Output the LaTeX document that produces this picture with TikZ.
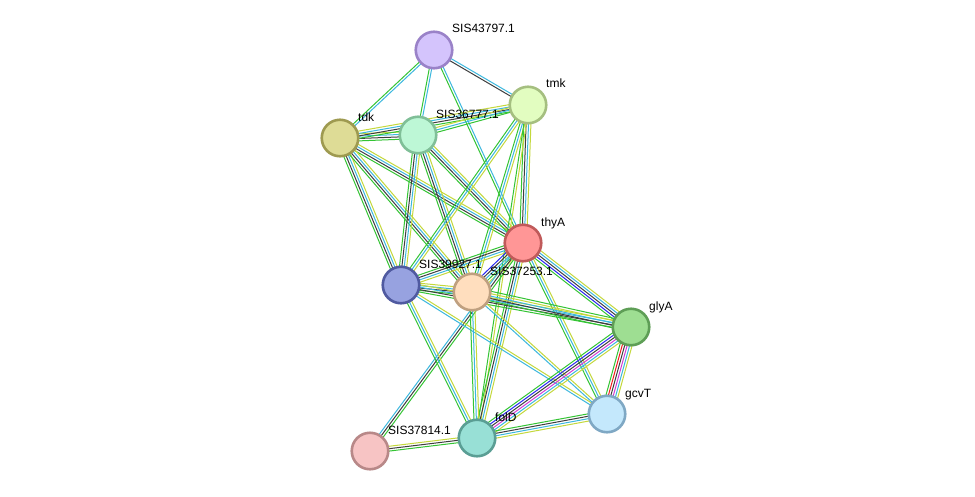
\documentclass[tikz,border=0pt]{standalone}
\usepackage{fontspec}
\setmainfont{Liberation Sans}
\usetikzlibrary{calc,backgrounds}
\definecolor{eG}{RGB}{52,196,52}
\definecolor{eC}{RGB}{60,184,222}
\definecolor{eK}{RGB}{62,62,62}
\definecolor{eY}{RGB}{196,216,60}
\definecolor{eB}{RGB}{40,40,240}
\definecolor{eR}{RGB}{240,30,30}
\definecolor{eM}{RGB}{210,60,210}
\tikzset{
  prot/.style={circle, minimum size=36.5pt, inner sep=0pt, line width=2.6pt},
  plabel/.style={anchor=base west, font=\fontsize{12}{14}\selectfont, inner sep=0pt},
  eline/.style={line width=1pt},
}
\newcommand{\bund}[3]{%
  \foreach [count=\i] \c in {#3} {\xdef\nn{\i}}%
  \foreach [count=\i] \c in {#3} {%
    \pgfmathsetmacro{\off}{(\i-(\nn+1)/2)*2.4}%
    \draw[eline, \c] ($(#1)!\off pt!90:(#2)$) -- ($(#2)!\off pt!-90:(#1)$);
  }%
}
\begin{document}
\begin{tikzpicture}[x=1pt,y=-1pt]
\useasboundingbox (0,0) rectangle (975,496);
% nodes
\node[prot, draw={rgb,255:red,154;green,130;blue,200}, fill={rgb,255:red,212;green,196;blue,252}] (n43797) at (434,50) {};
\node[prot, draw={rgb,255:red,165;green,191;blue,128}, fill={rgb,255:red,226;green,253;blue,192}] (tmk) at (528,105) {};
\node[prot, draw={rgb,255:red,158;green,154;blue,80}, fill={rgb,255:red,222;green,220;blue,150}] (tdk) at (340,138) {};
\node[prot, draw={rgb,255:red,128;green,191;blue,152}, fill={rgb,255:red,189;green,247;blue,214}] (n36777) at (418,135) {};
\node[prot, draw={rgb,255:red,192;green,90;blue,90}, fill={rgb,255:red,255;green,150;blue,150}] (thyA) at (523,243) {};
\node[prot, draw={rgb,255:red,80;green,90;blue,160}, fill={rgb,255:red,151;green,162;blue,224}] (n39927) at (401,285) {};
\node[prot, draw={rgb,255:red,191;green,160;blue,128}, fill={rgb,255:red,255;green,222;blue,190}] (n37253) at (472,292) {};
\node[prot, draw={rgb,255:red,94;green,158;blue,86}, fill={rgb,255:red,158;green,222;blue,146}] (glyA) at (631,327) {};
\node[prot, draw={rgb,255:red,127;green,168;blue,196}, fill={rgb,255:red,196;green,232;blue,252}] (gcvT) at (607,414) {};
\node[prot, draw={rgb,255:red,90;green,158;blue,148}, fill={rgb,255:red,152;green,224;blue,214}] (folD) at (477,438) {};
\node[prot, draw={rgb,255:red,184;green,136;blue,136}, fill={rgb,255:red,247;green,196;blue,196}] (n37814) at (370,451) {};
% labels
\node[plabel] (l43797) at (452,32) {SIS43797.1};
\node[plabel] (ltmk) at (546,87) {tmk};
\node[plabel] (ltdk) at (358,121) {tdk};
\node[plabel] (l36777) at (436,118) {SIS36777.1};
\node[plabel] (lthyA) at (541,226) {thyA};
\node[plabel] (l39927) at (419,268) {SIS39927.1};
\node[plabel] (l37253) at (490,275) {SIS37253.1};
\node[plabel] (lglyA) at (649,310) {glyA};
\node[plabel] (lgcvT) at (625,397) {gcvT};
\node[plabel] (lfolD) at (495,421) {folD};
\node[plabel] (l37814) at (388,434) {SIS37814.1};
% edges
\begin{pgfonlayer}{background}
\fill[white] (0,0) rectangle (975,496);
\bund{n43797}{tmk}{eK,eC}
\bund{n43797}{tdk}{eG,eC}
\bund{n43797}{n36777}{eG,eC}
\bund{n43797}{thyA}{eG,eC}
\bund{tdk}{n36777}{eG,eK,eC,eY}
\bund{tdk}{tmk}{eG,eK,eC,eY}
\bund{n36777}{tmk}{eG,eC,eY}
\bund{tdk}{thyA}{eG,eK,eC,eY}
\bund{tdk}{n39927}{eG,eK,eC,eY}
\bund{tdk}{n37253}{eG,eK,eC,eY}
\bund{n36777}{thyA}{eG,eK,eC,eY}
\bund{n36777}{n39927}{eG,eK,eC,eY}
\bund{n36777}{n37253}{eG,eK,eC,eY}
\bund{tmk}{thyA}{eG,eK,eC,eY}
\bund{tmk}{n39927}{eG,eC,eY}
\bund{tmk}{n37253}{eG,eC,eY}
\bund{tmk}{folD}{eG,eY}
\bund{thyA}{n39927}{eG,eK,eC,eY}
\bund{thyA}{n37253}{eB,eK,eC,eG,eY}
\bund{thyA}{glyA}{eG,eB,eK,eC,eY}
\bund{thyA}{gcvT}{eG,eC,eY}
\bund{thyA}{folD}{eG,eK,eC,eY}
\bund{thyA}{n37814}{eC,eK,eG}
\bund{n39927}{n37253}{eG,eK,eC,eY}
\bund{n39927}{glyA}{eG,eK,eC,eY}
\bund{n39927}{gcvT}{eC,eY}
\bund{n39927}{folD}{eG,eC,eY}
\bund{n37253}{glyA}{eG,eK,eC,eY,eG}
\bund{n37253}{gcvT}{eC,eY}
\bund{n37253}{folD}{eG,eC,eY}
\bund{glyA}{gcvT}{eG,eR,eK,eM,eC,eY}
\bund{glyA}{folD}{eG,eB,eK,eM,eC,eY}
\bund{folD}{gcvT}{eY,eC,eK,eG}
\bund{folD}{n37814}{eY,eK,eG}
\end{pgfonlayer}
\end{tikzpicture}
\end{document}
